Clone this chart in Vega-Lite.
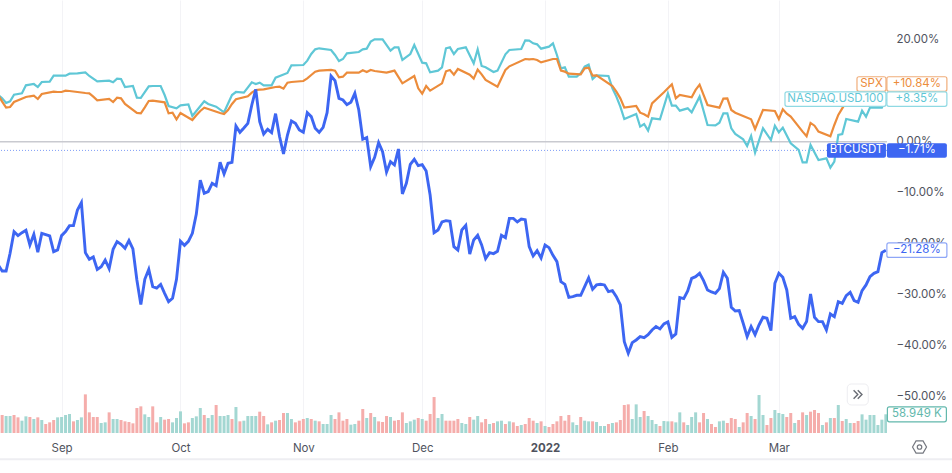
{"$schema":"https://vega.github.io/schema/vega-lite/v6.json","width":887,"height":433,"autosize":{"type":"none"},"padding":{"left":0,"top":0,"right":65,"bottom":40},"background":"#ffffff",
"config":{"view":{"stroke":null},"font":"Inter","axis":{"title":null,"domain":false,"ticks":false,"grid":true,"gridColor":"#f3f3f6","gridWidth":1,"labelFont":"Inter","labelFontSize":11.5,"labelColor":"#50535e"}},
"datasets":{
"btc":[{"date":"2021-08-16","pct":-24.18},{"date":"2021-08-17","pct":-25.35},{"date":"2021-08-18","pct":-25.35},{"date":"2021-08-19","pct":-21.89},{"date":"2021-08-20","pct":-17.64},{"date":"2021-08-21","pct":-18.42},{"date":"2021-08-22","pct":-17.84},{"date":"2021-08-23","pct":-17.38},{"date":"2021-08-24","pct":-20.25},{"date":"2021-08-25","pct":-18.16},{"date":"2021-08-26","pct":-21.69},{"date":"2021-08-27","pct":-17.97},{"date":"2021-08-28","pct":-18.23},{"date":"2021-08-29","pct":-18.49},{"date":"2021-08-30","pct":-21.56},{"date":"2021-08-31","pct":-21.23},{"date":"2021-09-01","pct":-18.42},{"date":"2021-09-02","pct":-17.64},{"date":"2021-09-03","pct":-16.46},{"date":"2021-09-04","pct":-16.46},{"date":"2021-09-05","pct":-13.39},{"date":"2021-09-06","pct":-11.95},{"date":"2021-09-07","pct":-21.76},{"date":"2021-09-08","pct":-23.06},{"date":"2021-09-09","pct":-22.61},{"date":"2021-09-10","pct":-25.03},{"date":"2021-09-11","pct":-24.5},{"date":"2021-09-12","pct":-23.2},{"date":"2021-09-13","pct":-24.9},{"date":"2021-09-14","pct":-21.1},{"date":"2021-09-15","pct":-19.6},{"date":"2021-09-16","pct":-20.12},{"date":"2021-09-17","pct":-20.9},{"date":"2021-09-18","pct":-19.4},{"date":"2021-09-19","pct":-21.04},{"date":"2021-09-20","pct":-27.12},{"date":"2021-09-21","pct":-31.95},{"date":"2021-09-22","pct":-26.99},{"date":"2021-09-23","pct":-25.03},{"date":"2021-09-24","pct":-28.42},{"date":"2021-09-25","pct":-28.69},{"date":"2021-09-26","pct":-27.97},{"date":"2021-09-27","pct":-29.73},{"date":"2021-09-28","pct":-31.37},{"date":"2021-09-29","pct":-30.71},{"date":"2021-09-30","pct":-26.99},{"date":"2021-10-01","pct":-19.53},{"date":"2021-10-02","pct":-20.32},{"date":"2021-10-03","pct":-19.53},{"date":"2021-10-04","pct":-17.97},{"date":"2021-10-05","pct":-14.2},{"date":"2021-10-06","pct":-7.57},{"date":"2021-10-07","pct":-10.12},{"date":"2021-10-08","pct":-9.8},{"date":"2021-10-09","pct":-8.16},{"date":"2021-10-10","pct":-8.62},{"date":"2021-10-11","pct":-4.04},{"date":"2021-10-12","pct":-6.33},{"date":"2021-10-13","pct":-4.24},{"date":"2021-10-14","pct":-4.04},{"date":"2021-10-15","pct":3.08},{"date":"2021-10-16","pct":1.84},{"date":"2021-10-17","pct":2.69},{"date":"2021-10-18","pct":3.6},{"date":"2021-10-19","pct":7.2},{"date":"2021-10-20","pct":10.27},{"date":"2021-10-21","pct":3.93},{"date":"2021-10-22","pct":1.51},{"date":"2021-10-23","pct":2.43},{"date":"2021-10-24","pct":1.77},{"date":"2021-10-25","pct":5.5},{"date":"2021-10-26","pct":1.0},{"date":"2021-10-27","pct":-2.41},{"date":"2021-10-28","pct":1.31},{"date":"2021-10-29","pct":4.06},{"date":"2021-10-30","pct":3.6},{"date":"2021-10-31","pct":2.3},{"date":"2021-11-01","pct":1.84},{"date":"2021-11-02","pct":5.69},{"date":"2021-11-03","pct":4.91},{"date":"2021-11-04","pct":2.62},{"date":"2021-11-05","pct":1.84},{"date":"2021-11-06","pct":2.82},{"date":"2021-11-07","pct":5.69},{"date":"2021-11-08","pct":12.88},{"date":"2021-11-09","pct":11.97},{"date":"2021-11-10","pct":8.5},{"date":"2021-11-11","pct":8.18},{"date":"2021-11-12","pct":7.26},{"date":"2021-11-13","pct":7.72},{"date":"2021-11-14","pct":9.48},{"date":"2021-11-15","pct":6.22},{"date":"2021-11-16","pct":0.47},{"date":"2021-11-17","pct":0.79},{"date":"2021-11-18","pct":-4.9},{"date":"2021-11-19","pct":-3.06},{"date":"2021-11-20","pct":-0.19},{"date":"2021-11-21","pct":-1.95},{"date":"2021-11-22","pct":-5.94},{"date":"2021-11-23","pct":-3.91},{"date":"2021-11-24","pct":-4.57},{"date":"2021-11-25","pct":-1.43},{"date":"2021-11-26","pct":-10.25},{"date":"2021-11-27","pct":-8.16},{"date":"2021-11-28","pct":-4.44},{"date":"2021-11-29","pct":-3.46},{"date":"2021-11-30","pct":-4.7},{"date":"2021-12-01","pct":-4.5},{"date":"2021-12-02","pct":-5.74},{"date":"2021-12-03","pct":-10.45},{"date":"2021-12-04","pct":-17.84},{"date":"2021-12-05","pct":-17.31},{"date":"2021-12-06","pct":-15.74},{"date":"2021-12-07","pct":-15.48},{"date":"2021-12-08","pct":-15.61},{"date":"2021-12-09","pct":-20.58},{"date":"2021-12-10","pct":-21.23},{"date":"2021-12-11","pct":-17.31},{"date":"2021-12-12","pct":-16.4},{"date":"2021-12-13","pct":-22.02},{"date":"2021-12-14","pct":-19.27},{"date":"2021-12-15","pct":-18.36},{"date":"2021-12-16","pct":-20.25},{"date":"2021-12-17","pct":-22.93},{"date":"2021-12-18","pct":-21.76},{"date":"2021-12-19","pct":-21.95},{"date":"2021-12-20","pct":-21.5},{"date":"2021-12-21","pct":-18.36},{"date":"2021-12-22","pct":-18.82},{"date":"2021-12-23","pct":-15.03},{"date":"2021-12-24","pct":-15.03},{"date":"2021-12-25","pct":-15.74},{"date":"2021-12-26","pct":-15.16},{"date":"2021-12-27","pct":-15.29},{"date":"2021-12-28","pct":-20.58},{"date":"2021-12-29","pct":-22.41},{"date":"2021-12-30","pct":-21.37},{"date":"2021-12-31","pct":-22.8},{"date":"2022-01-01","pct":-20.25},{"date":"2022-01-02","pct":-20.78},{"date":"2022-01-03","pct":-22.28},{"date":"2022-01-04","pct":-23.52},{"date":"2022-01-05","pct":-27.44},{"date":"2022-01-06","pct":-27.97},{"date":"2022-01-07","pct":-30.52},{"date":"2022-01-08","pct":-30.38},{"date":"2022-01-09","pct":-30.12},{"date":"2022-01-10","pct":-30.12},{"date":"2022-01-11","pct":-28.42},{"date":"2022-01-12","pct":-26.72},{"date":"2022-01-13","pct":-28.94},{"date":"2022-01-14","pct":-28.09},{"date":"2022-01-15","pct":-27.96},{"date":"2022-01-16","pct":-28.09},{"date":"2022-01-17","pct":-29.4},{"date":"2022-01-18","pct":-29.21},{"date":"2022-01-19","pct":-30.38},{"date":"2022-01-20","pct":-32.02},{"date":"2022-01-21","pct":-39.2},{"date":"2022-01-22","pct":-41.49},{"date":"2022-01-23","pct":-39.4},{"date":"2022-01-24","pct":-38.88},{"date":"2022-01-25","pct":-38.22},{"date":"2022-01-26","pct":-38.42},{"date":"2022-01-27","pct":-37.83},{"date":"2022-01-28","pct":-36.92},{"date":"2022-01-29","pct":-36.26},{"date":"2022-01-30","pct":-36.72},{"date":"2022-01-31","pct":-35.74},{"date":"2022-02-01","pct":-35.35},{"date":"2022-02-02","pct":-38.36},{"date":"2022-02-03","pct":-37.7},{"date":"2022-02-04","pct":-30.58},{"date":"2022-02-05","pct":-30.77},{"date":"2022-02-06","pct":-29.27},{"date":"2022-02-07","pct":-26.79},{"date":"2022-02-08","pct":-26.46},{"date":"2022-02-09","pct":-25.81},{"date":"2022-02-10","pct":-27.24},{"date":"2022-02-11","pct":-29.07},{"date":"2022-02-12","pct":-29.47},{"date":"2022-02-13","pct":-29.73},{"date":"2022-02-14","pct":-28.81},{"date":"2022-02-15","pct":-25.61},{"date":"2022-02-16","pct":-26.79},{"date":"2022-02-17","pct":-32.47},{"date":"2022-02-18","pct":-33.19},{"date":"2022-02-19","pct":-33.13},{"date":"2022-02-20","pct":-35.61},{"date":"2022-02-21","pct":-38.22},{"date":"2022-02-22","pct":-36.26},{"date":"2022-02-23","pct":-37.83},{"date":"2022-02-24","pct":-35.94},{"date":"2022-02-25","pct":-34.43},{"date":"2022-02-26","pct":-34.63},{"date":"2022-02-27","pct":-37.05},{"date":"2022-02-28","pct":-27.77},{"date":"2022-03-01","pct":-25.81},{"date":"2022-03-02","pct":-26.59},{"date":"2022-03-03","pct":-29.07},{"date":"2022-03-04","pct":-34.63},{"date":"2022-03-05","pct":-34.3},{"date":"2022-03-06","pct":-35.81},{"date":"2022-03-07","pct":-36.59},{"date":"2022-03-08","pct":-35.28},{"date":"2022-03-09","pct":-29.86},{"date":"2022-03-10","pct":-34.43},{"date":"2022-03-11","pct":-35.28},{"date":"2022-03-12","pct":-35.28},{"date":"2022-03-13","pct":-36.92},{"date":"2022-03-14","pct":-33.78},{"date":"2022-03-15","pct":-34.3},{"date":"2022-03-16","pct":-31.36},{"date":"2022-03-17","pct":-31.69},{"date":"2022-03-18","pct":-30.19},{"date":"2022-03-19","pct":-29.53},{"date":"2022-03-20","pct":-31.17},{"date":"2022-03-21","pct":-31.49},{"date":"2022-03-22","pct":-29.21},{"date":"2022-03-23","pct":-28.09},{"date":"2022-03-24","pct":-26.46},{"date":"2022-03-25","pct":-25.81},{"date":"2022-03-26","pct":-25.48},{"date":"2022-03-27","pct":-21.75},{"date":"2022-03-28","pct":-21.28}],
"spx":[{"date":"2021-08-16","pct":9.15},{"date":"2021-08-17","pct":7.85},{"date":"2021-08-18","pct":6.67},{"date":"2021-08-19","pct":6.8},{"date":"2021-08-20","pct":7.78},{"date":"2021-08-23","pct":8.76},{"date":"2021-08-24","pct":8.9},{"date":"2021-08-25","pct":9.02},{"date":"2021-08-26","pct":8.37},{"date":"2021-08-27","pct":9.35},{"date":"2021-08-30","pct":9.81},{"date":"2021-08-31","pct":9.74},{"date":"2021-09-01","pct":9.74},{"date":"2021-09-02","pct":10.0},{"date":"2021-09-03","pct":9.94},{"date":"2021-09-07","pct":9.55},{"date":"2021-09-08","pct":9.48},{"date":"2021-09-09","pct":8.83},{"date":"2021-09-10","pct":8.11},{"date":"2021-09-13","pct":8.37},{"date":"2021-09-14","pct":7.78},{"date":"2021-09-15","pct":8.63},{"date":"2021-09-16","pct":8.5},{"date":"2021-09-17","pct":7.39},{"date":"2021-09-20","pct":5.63},{"date":"2021-09-21","pct":5.56},{"date":"2021-09-22","pct":6.74},{"date":"2021-09-23","pct":7.98},{"date":"2021-09-24","pct":8.04},{"date":"2021-09-27","pct":7.72},{"date":"2021-09-28","pct":5.56},{"date":"2021-09-29","pct":5.69},{"date":"2021-09-30","pct":4.38},{"date":"2021-10-01","pct":5.63},{"date":"2021-10-04","pct":4.25},{"date":"2021-10-05","pct":5.17},{"date":"2021-10-06","pct":6.02},{"date":"2021-10-07","pct":6.67},{"date":"2021-10-08","pct":6.41},{"date":"2021-10-11","pct":5.63},{"date":"2021-10-12","pct":5.43},{"date":"2021-10-13","pct":6.21},{"date":"2021-10-14","pct":7.39},{"date":"2021-10-15","pct":8.31},{"date":"2021-10-18","pct":8.9},{"date":"2021-10-19","pct":9.61},{"date":"2021-10-20","pct":10.14},{"date":"2021-10-21","pct":10.2},{"date":"2021-10-22","pct":10.27},{"date":"2021-10-25","pct":10.72},{"date":"2021-10-26","pct":10.79},{"date":"2021-10-27","pct":10.4},{"date":"2021-10-28","pct":11.57},{"date":"2021-10-29","pct":11.7},{"date":"2021-11-01","pct":11.9},{"date":"2021-11-02","pct":12.42},{"date":"2021-11-03","pct":13.08},{"date":"2021-11-04","pct":13.73},{"date":"2021-11-05","pct":13.93},{"date":"2021-11-08","pct":14.06},{"date":"2021-11-09","pct":13.93},{"date":"2021-11-10","pct":12.62},{"date":"2021-11-11","pct":12.75},{"date":"2021-11-12","pct":13.53},{"date":"2021-11-15","pct":13.53},{"date":"2021-11-16","pct":13.99},{"date":"2021-11-17","pct":13.66},{"date":"2021-11-18","pct":14.06},{"date":"2021-11-19","pct":13.86},{"date":"2021-11-22","pct":13.53},{"date":"2021-11-23","pct":13.73},{"date":"2021-11-24","pct":13.93},{"date":"2021-11-26","pct":11.44},{"date":"2021-11-29","pct":12.88},{"date":"2021-11-30","pct":10.46},{"date":"2021-12-01","pct":9.42},{"date":"2021-12-02","pct":10.92},{"date":"2021-12-03","pct":10.0},{"date":"2021-12-06","pct":11.44},{"date":"2021-12-07","pct":13.8},{"date":"2021-12-08","pct":14.06},{"date":"2021-12-09","pct":13.14},{"date":"2021-12-10","pct":14.25},{"date":"2021-12-13","pct":13.14},{"date":"2021-12-14","pct":12.36},{"date":"2021-12-15","pct":14.12},{"date":"2021-12-16","pct":13.21},{"date":"2021-12-17","pct":12.1},{"date":"2021-12-20","pct":10.79},{"date":"2021-12-21","pct":12.42},{"date":"2021-12-22","pct":14.06},{"date":"2021-12-23","pct":14.78},{"date":"2021-12-27","pct":16.21},{"date":"2021-12-28","pct":16.15},{"date":"2021-12-29","pct":16.21},{"date":"2021-12-30","pct":16.02},{"date":"2021-12-31","pct":15.56},{"date":"2022-01-03","pct":16.21},{"date":"2022-01-04","pct":16.21},{"date":"2022-01-05","pct":13.93},{"date":"2022-01-06","pct":13.73},{"date":"2022-01-07","pct":13.34},{"date":"2022-01-10","pct":13.21},{"date":"2022-01-11","pct":14.38},{"date":"2022-01-12","pct":14.51},{"date":"2022-01-13","pct":12.95},{"date":"2022-01-14","pct":13.01},{"date":"2022-01-18","pct":10.92},{"date":"2022-01-19","pct":9.81},{"date":"2022-01-20","pct":8.5},{"date":"2022-01-21","pct":6.67},{"date":"2022-01-24","pct":7.0},{"date":"2022-01-25","pct":5.69},{"date":"2022-01-26","pct":5.37},{"date":"2022-01-27","pct":4.91},{"date":"2022-01-28","pct":7.52},{"date":"2022-01-31","pct":9.68},{"date":"2022-02-01","pct":10.46},{"date":"2022-02-02","pct":11.25},{"date":"2022-02-03","pct":8.5},{"date":"2022-02-04","pct":9.16},{"date":"2022-02-07","pct":8.7},{"date":"2022-02-08","pct":10.14},{"date":"2022-02-09","pct":11.18},{"date":"2022-02-10","pct":9.16},{"date":"2022-02-11","pct":7.2},{"date":"2022-02-14","pct":6.67},{"date":"2022-02-15","pct":8.44},{"date":"2022-02-16","pct":8.5},{"date":"2022-02-17","pct":6.22},{"date":"2022-02-18","pct":5.69},{"date":"2022-02-22","pct":4.39},{"date":"2022-02-23","pct":2.49},{"date":"2022-02-24","pct":4.39},{"date":"2022-02-25","pct":6.22},{"date":"2022-02-28","pct":6.02},{"date":"2022-03-01","pct":4.45},{"date":"2022-03-02","pct":6.35},{"date":"2022-03-03","pct":5.5},{"date":"2022-03-04","pct":4.91},{"date":"2022-03-07","pct":1.97},{"date":"2022-03-08","pct":1.05},{"date":"2022-03-09","pct":3.67},{"date":"2022-03-10","pct":3.14},{"date":"2022-03-11","pct":1.97},{"date":"2022-03-14","pct":1.05},{"date":"2022-03-15","pct":3.27},{"date":"2022-03-16","pct":5.24},{"date":"2022-03-17","pct":6.54},{"date":"2022-03-18","pct":7.85},{"date":"2022-03-21","pct":7.85},{"date":"2022-03-22","pct":9.16},{"date":"2022-03-23","pct":8.5},{"date":"2022-03-24","pct":9.48},{"date":"2022-03-25","pct":9.81},{"date":"2022-03-28","pct":10.84}],
"ndx":[{"date":"2021-08-16","pct":9.15},{"date":"2021-08-17","pct":8.5},{"date":"2021-08-18","pct":7.59},{"date":"2021-08-19","pct":7.91},{"date":"2021-08-20","pct":9.22},{"date":"2021-08-22","pct":9.48},{"date":"2021-08-23","pct":11.05},{"date":"2021-08-25","pct":11.31},{"date":"2021-08-26","pct":10.72},{"date":"2021-08-27","pct":11.7},{"date":"2021-08-29","pct":11.77},{"date":"2021-08-30","pct":12.95},{"date":"2021-09-02","pct":12.95},{"date":"2021-09-03","pct":13.34},{"date":"2021-09-05","pct":13.4},{"date":"2021-09-07","pct":13.6},{"date":"2021-09-08","pct":12.88},{"date":"2021-09-10","pct":11.83},{"date":"2021-09-13","pct":11.97},{"date":"2021-09-14","pct":11.64},{"date":"2021-09-15","pct":12.36},{"date":"2021-09-16","pct":12.29},{"date":"2021-09-17","pct":10.72},{"date":"2021-09-19","pct":10.92},{"date":"2021-09-20","pct":8.63},{"date":"2021-09-21","pct":8.57},{"date":"2021-09-23","pct":10.85},{"date":"2021-09-24","pct":10.92},{"date":"2021-09-26","pct":10.92},{"date":"2021-09-27","pct":9.15},{"date":"2021-09-28","pct":7.0},{"date":"2021-09-30","pct":6.54},{"date":"2021-10-01","pct":7.13},{"date":"2021-10-03","pct":7.32},{"date":"2021-10-04","pct":5.04},{"date":"2021-10-07","pct":7.91},{"date":"2021-10-08","pct":7.39},{"date":"2021-10-10","pct":6.87},{"date":"2021-10-12","pct":5.76},{"date":"2021-10-14","pct":9.15},{"date":"2021-10-15","pct":9.74},{"date":"2021-10-17","pct":9.61},{"date":"2021-10-19","pct":11.64},{"date":"2021-10-20","pct":11.31},{"date":"2021-10-21","pct":11.57},{"date":"2021-10-22","pct":11.05},{"date":"2021-10-24","pct":11.05},{"date":"2021-10-25","pct":12.55},{"date":"2021-10-28","pct":13.47},{"date":"2021-10-29","pct":14.97},{"date":"2021-11-01","pct":15.04},{"date":"2021-11-02","pct":15.89},{"date":"2021-11-03","pct":17.19},{"date":"2021-11-04","pct":18.11},{"date":"2021-11-05","pct":18.31},{"date":"2021-11-08","pct":17.98},{"date":"2021-11-09","pct":17.0},{"date":"2021-11-10","pct":15.82},{"date":"2021-11-11","pct":16.21},{"date":"2021-11-12","pct":17.32},{"date":"2021-11-15","pct":17.59},{"date":"2021-11-16","pct":18.11},{"date":"2021-11-17","pct":18.24},{"date":"2021-11-18","pct":19.61},{"date":"2021-11-19","pct":20.07},{"date":"2021-11-21","pct":20.07},{"date":"2021-11-23","pct":17.85},{"date":"2021-11-24","pct":18.5},{"date":"2021-11-25","pct":18.5},{"date":"2021-11-26","pct":16.02},{"date":"2021-11-28","pct":17.19},{"date":"2021-11-29","pct":18.96},{"date":"2021-12-01","pct":15.49},{"date":"2021-12-02","pct":15.36},{"date":"2021-12-03","pct":13.6},{"date":"2021-12-05","pct":13.93},{"date":"2021-12-06","pct":14.58},{"date":"2021-12-07","pct":18.31},{"date":"2021-12-08","pct":18.5},{"date":"2021-12-09","pct":17.19},{"date":"2021-12-10","pct":18.17},{"date":"2021-12-12","pct":18.5},{"date":"2021-12-14","pct":15.36},{"date":"2021-12-15","pct":18.11},{"date":"2021-12-16","pct":14.84},{"date":"2021-12-17","pct":14.58},{"date":"2021-12-19","pct":13.66},{"date":"2021-12-20","pct":13.93},{"date":"2021-12-22","pct":17.13},{"date":"2021-12-23","pct":17.98},{"date":"2021-12-26","pct":18.17},{"date":"2021-12-27","pct":19.87},{"date":"2021-12-28","pct":19.81},{"date":"2021-12-29","pct":19.29},{"date":"2021-12-30","pct":19.09},{"date":"2021-12-31","pct":18.24},{"date":"2022-01-02","pct":18.63},{"date":"2022-01-03","pct":19.29},{"date":"2022-01-04","pct":17.0},{"date":"2022-01-05","pct":14.38},{"date":"2022-01-06","pct":14.58},{"date":"2022-01-07","pct":12.75},{"date":"2022-01-09","pct":12.75},{"date":"2022-01-10","pct":13.4},{"date":"2022-01-11","pct":14.71},{"date":"2022-01-12","pct":15.1},{"date":"2022-01-13","pct":12.29},{"date":"2022-01-14","pct":13.01},{"date":"2022-01-17","pct":12.88},{"date":"2022-01-18","pct":10.46},{"date":"2022-01-19","pct":8.83},{"date":"2022-01-20","pct":6.87},{"date":"2022-01-21","pct":4.45},{"date":"2022-01-24","pct":5.43},{"date":"2022-01-25","pct":2.95},{"date":"2022-01-26","pct":3.47},{"date":"2022-01-27","pct":2.16},{"date":"2022-01-28","pct":4.58},{"date":"2022-01-30","pct":4.39},{"date":"2022-02-01","pct":9.48},{"date":"2022-02-02","pct":7.07},{"date":"2022-02-03","pct":7.07},{"date":"2022-02-04","pct":6.09},{"date":"2022-02-06","pct":6.54},{"date":"2022-02-07","pct":5.76},{"date":"2022-02-09","pct":8.83},{"date":"2022-02-11","pct":3.27},{"date":"2022-02-13","pct":3.21},{"date":"2022-02-14","pct":3.73},{"date":"2022-02-15","pct":5.56},{"date":"2022-02-16","pct":5.56},{"date":"2022-02-17","pct":2.62},{"date":"2022-02-18","pct":1.51},{"date":"2022-02-20","pct":0.46},{"date":"2022-02-21","pct":-0.84},{"date":"2022-02-22","pct":1.12},{"date":"2022-02-23","pct":-2.15},{"date":"2022-02-25","pct":2.62},{"date":"2022-02-27","pct":0.33},{"date":"2022-02-28","pct":3.14},{"date":"2022-03-01","pct":1.84},{"date":"2022-03-02","pct":2.75},{"date":"2022-03-04","pct":-0.32},{"date":"2022-03-06","pct":-1.63},{"date":"2022-03-07","pct":-4.05},{"date":"2022-03-08","pct":-4.05},{"date":"2022-03-09","pct":-0.65},{"date":"2022-03-11","pct":-3.59},{"date":"2022-03-13","pct":-3.26},{"date":"2022-03-14","pct":-5.09},{"date":"2022-03-15","pct":-3.91},{"date":"2022-03-16","pct":1.31},{"date":"2022-03-17","pct":1.51},{"date":"2022-03-18","pct":4.45},{"date":"2022-03-21","pct":3.93},{"date":"2022-03-22","pct":6.09},{"date":"2022-03-23","pct":4.91},{"date":"2022-03-24","pct":6.67},{"date":"2022-03-27","pct":6.67},{"date":"2022-03-28","pct":8.35}],
"vol":[{"date":"2021-08-17","volume":56.7,"dir":"down"},{"date":"2021-08-18","volume":53.55,"dir":"up"},{"date":"2021-08-19","volume":53.55,"dir":"up"},{"date":"2021-08-20","volume":56.7,"dir":"down"},{"date":"2021-08-21","volume":49.35,"dir":"down"},{"date":"2021-08-22","volume":38.85,"dir":"up"},{"date":"2021-08-23","volume":52.5,"dir":"up"},{"date":"2021-08-24","volume":50.4,"dir":"down"},{"date":"2021-08-25","volume":44.1,"dir":"up"},{"date":"2021-08-26","volume":49.35,"dir":"down"},{"date":"2021-08-27","volume":40.95,"dir":"up"},{"date":"2021-08-28","volume":28.35,"dir":"down"},{"date":"2021-08-29","volume":33.6,"dir":"down"},{"date":"2021-08-30","volume":40.95,"dir":"down"},{"date":"2021-08-31","volume":49.35,"dir":"up"},{"date":"2021-09-01","volume":50.4,"dir":"up"},{"date":"2021-09-02","volume":56.7,"dir":"up"},{"date":"2021-09-03","volume":59.85,"dir":"up"},{"date":"2021-09-04","volume":36.75,"dir":"down"},{"date":"2021-09-05","volume":40.95,"dir":"up"},{"date":"2021-09-06","volume":49.35,"dir":"up"},{"date":"2021-09-07","volume":121.8,"dir":"down"},{"date":"2021-09-08","volume":65.1,"dir":"down"},{"date":"2021-09-09","volume":50.4,"dir":"down"},{"date":"2021-09-10","volume":50.4,"dir":"down"},{"date":"2021-09-11","volume":31.5,"dir":"up"},{"date":"2021-09-12","volume":33.6,"dir":"up"},{"date":"2021-09-13","volume":65.1,"dir":"down"},{"date":"2021-09-14","volume":44.1,"dir":"up"},{"date":"2021-09-15","volume":44.1,"dir":"up"},{"date":"2021-09-16","volume":40.95,"dir":"down"},{"date":"2021-09-17","volume":36.75,"dir":"down"},{"date":"2021-09-18","volume":34.65,"dir":"down"},{"date":"2021-09-19","volume":30.45,"dir":"down"},{"date":"2021-09-20","volume":78.75,"dir":"down"},{"date":"2021-09-21","volume":84,"dir":"down"},{"date":"2021-09-22","volume":58.8,"dir":"up"},{"date":"2021-09-23","volume":50.4,"dir":"up"},{"date":"2021-09-24","volume":84,"dir":"down"},{"date":"2021-09-25","volume":33.6,"dir":"down"},{"date":"2021-09-26","volume":50.4,"dir":"up"},{"date":"2021-09-27","volume":42,"dir":"down"},{"date":"2021-09-28","volume":44.1,"dir":"down"},{"date":"2021-09-29","volume":33.6,"dir":"up"},{"date":"2021-09-30","volume":47.25,"dir":"up"},{"date":"2021-10-01","volume":68.25,"dir":"up"},{"date":"2021-10-02","volume":30.45,"dir":"down"},{"date":"2021-10-03","volume":33.6,"dir":"down"},{"date":"2021-10-04","volume":47.25,"dir":"up"},{"date":"2021-10-05","volume":52.5,"dir":"up"},{"date":"2021-10-06","volume":78.75,"dir":"up"},{"date":"2021-10-07","volume":56.7,"dir":"down"},{"date":"2021-10-08","volume":47.25,"dir":"up"},{"date":"2021-10-09","volume":56.7,"dir":"up"},{"date":"2021-10-10","volume":88.2,"dir":"down"},{"date":"2021-10-11","volume":53.55,"dir":"up"},{"date":"2021-10-12","volume":53.55,"dir":"up"},{"date":"2021-10-13","volume":56.7,"dir":"up"},{"date":"2021-10-14","volume":44.1,"dir":"down"},{"date":"2021-10-15","volume":81.9,"dir":"up"},{"date":"2021-10-16","volume":36.75,"dir":"down"},{"date":"2021-10-17","volume":38.85,"dir":"up"},{"date":"2021-10-18","volume":53.55,"dir":"up"},{"date":"2021-10-19","volume":53.55,"dir":"up"},{"date":"2021-10-20","volume":53.55,"dir":"up"},{"date":"2021-10-21","volume":67.2,"dir":"down"},{"date":"2021-10-22","volume":53.55,"dir":"down"},{"date":"2021-10-23","volume":27.3,"dir":"up"},{"date":"2021-10-24","volume":33.6,"dir":"down"},{"date":"2021-10-25","volume":38.85,"dir":"up"},{"date":"2021-10-26","volume":40.95,"dir":"down"},{"date":"2021-10-27","volume":63,"dir":"down"},{"date":"2021-10-28","volume":63,"dir":"up"},{"date":"2021-10-29","volume":44.1,"dir":"up"},{"date":"2021-10-30","volume":33.6,"dir":"down"},{"date":"2021-10-31","volume":38.85,"dir":"down"},{"date":"2021-11-01","volume":44.1,"dir":"down"},{"date":"2021-11-02","volume":47.25,"dir":"up"},{"date":"2021-11-03","volume":44.1,"dir":"down"},{"date":"2021-11-04","volume":38.85,"dir":"up"},{"date":"2021-11-05","volume":36.75,"dir":"down"},{"date":"2021-11-06","volume":28.35,"dir":"up"},{"date":"2021-11-07","volume":28.35,"dir":"up"},{"date":"2021-11-08","volume":56.7,"dir":"up"},{"date":"2021-11-09","volume":44.1,"dir":"down"},{"date":"2021-11-10","volume":65.1,"dir":"down"},{"date":"2021-11-11","volume":38.85,"dir":"down"},{"date":"2021-11-12","volume":44.1,"dir":"down"},{"date":"2021-11-13","volume":26.25,"dir":"up"},{"date":"2021-11-14","volume":28.35,"dir":"up"},{"date":"2021-11-15","volume":38.85,"dir":"down"},{"date":"2021-11-16","volume":75.6,"dir":"down"},{"date":"2021-11-17","volume":47.25,"dir":"up"},{"date":"2021-11-18","volume":63,"dir":"down"},{"date":"2021-11-19","volume":50.4,"dir":"up"},{"date":"2021-11-20","volume":36.75,"dir":"down"},{"date":"2021-11-21","volume":34.65,"dir":"down"},{"date":"2021-11-22","volume":53.55,"dir":"down"},{"date":"2021-11-23","volume":50.4,"dir":"up"},{"date":"2021-11-24","volume":38.85,"dir":"down"},{"date":"2021-11-25","volume":40.95,"dir":"down"},{"date":"2021-11-26","volume":65.1,"dir":"down"},{"date":"2021-11-27","volume":31.5,"dir":"up"},{"date":"2021-11-28","volume":36.75,"dir":"up"},{"date":"2021-11-29","volume":42,"dir":"up"},{"date":"2021-11-30","volume":47.25,"dir":"down"},{"date":"2021-12-01","volume":44.1,"dir":"up"},{"date":"2021-12-02","volume":38.85,"dir":"down"},{"date":"2021-12-03","volume":59.85,"dir":"down"},{"date":"2021-12-04","volume":113.4,"dir":"down"},{"date":"2021-12-05","volume":47.25,"dir":"up"},{"date":"2021-12-06","volume":59.85,"dir":"up"},{"date":"2021-12-07","volume":38.85,"dir":"down"},{"date":"2021-12-08","volume":38.85,"dir":"down"},{"date":"2021-12-09","volume":38.85,"dir":"down"},{"date":"2021-12-10","volume":44.1,"dir":"down"},{"date":"2021-12-11","volume":31.5,"dir":"up"},{"date":"2021-12-12","volume":28.35,"dir":"up"},{"date":"2021-12-13","volume":50.4,"dir":"down"},{"date":"2021-12-14","volume":42,"dir":"up"},{"date":"2021-12-15","volume":53.55,"dir":"up"},{"date":"2021-12-16","volume":33.6,"dir":"down"},{"date":"2021-12-17","volume":44.1,"dir":"down"},{"date":"2021-12-18","volume":28.35,"dir":"up"},{"date":"2021-12-19","volume":31.5,"dir":"down"},{"date":"2021-12-20","volume":36.75,"dir":"up"},{"date":"2021-12-21","volume":38.85,"dir":"up"},{"date":"2021-12-22","volume":28.35,"dir":"down"},{"date":"2021-12-23","volume":36.75,"dir":"up"},{"date":"2021-12-24","volume":33.6,"dir":"down"},{"date":"2021-12-25","volume":22.05,"dir":"down"},{"date":"2021-12-26","volume":25.2,"dir":"up"},{"date":"2021-12-27","volume":28.35,"dir":"down"},{"date":"2021-12-28","volume":47.25,"dir":"down"},{"date":"2021-12-29","volume":38.85,"dir":"down"},{"date":"2021-12-30","volume":31.5,"dir":"up"},{"date":"2021-12-31","volume":36.75,"dir":"down"},{"date":"2022-01-01","volume":22.05,"dir":"up"},{"date":"2022-01-02","volume":18.9,"dir":"down"},{"date":"2022-01-03","volume":28.35,"dir":"down"},{"date":"2022-01-04","volume":36.75,"dir":"down"},{"date":"2022-01-05","volume":53.55,"dir":"down"},{"date":"2022-01-06","volume":38.85,"dir":"down"},{"date":"2022-01-07","volume":56.7,"dir":"down"},{"date":"2022-01-08","volume":33.6,"dir":"up"},{"date":"2022-01-09","volume":25.2,"dir":"up"},{"date":"2022-01-10","volume":50.4,"dir":"down"},{"date":"2022-01-11","volume":38.85,"dir":"up"},{"date":"2022-01-12","volume":36.75,"dir":"up"},{"date":"2022-01-13","volume":36.75,"dir":"down"},{"date":"2022-01-14","volume":34.65,"dir":"up"},{"date":"2022-01-15","volume":22.05,"dir":"up"},{"date":"2022-01-16","volume":22.05,"dir":"up"},{"date":"2022-01-17","volume":28.35,"dir":"down"},{"date":"2022-01-18","volume":31.5,"dir":"up"},{"date":"2022-01-19","volume":33.6,"dir":"down"},{"date":"2022-01-20","volume":40.95,"dir":"down"},{"date":"2022-01-21","volume":88.2,"dir":"down"},{"date":"2022-01-22","volume":90.3,"dir":"down"},{"date":"2022-01-23","volume":44.1,"dir":"up"},{"date":"2022-01-24","volume":90.3,"dir":"up"},{"date":"2022-01-25","volume":50.4,"dir":"up"},{"date":"2022-01-26","volume":69.3,"dir":"down"},{"date":"2022-01-27","volume":53.55,"dir":"up"},{"date":"2022-01-28","volume":40.95,"dir":"up"},{"date":"2022-01-29","volume":28.35,"dir":"up"},{"date":"2022-01-30","volume":22.05,"dir":"down"},{"date":"2022-01-31","volume":37.8,"dir":"up"},{"date":"2022-02-01","volume":36.75,"dir":"up"},{"date":"2022-02-02","volume":36.75,"dir":"down"},{"date":"2022-02-03","volume":33.6,"dir":"up"},{"date":"2022-02-04","volume":65.1,"dir":"up"},{"date":"2022-02-05","volume":33.6,"dir":"down"},{"date":"2022-02-06","volume":25.2,"dir":"up"},{"date":"2022-02-07","volume":50.4,"dir":"up"},{"date":"2022-02-08","volume":65.1,"dir":"up"},{"date":"2022-02-09","volume":33.6,"dir":"down"},{"date":"2022-02-10","volume":63,"dir":"down"},{"date":"2022-02-11","volume":44.1,"dir":"up"},{"date":"2022-02-12","volume":28.35,"dir":"down"},{"date":"2022-02-13","volume":18.9,"dir":"down"},{"date":"2022-02-14","volume":36.75,"dir":"up"},{"date":"2022-02-15","volume":38.85,"dir":"up"},{"date":"2022-02-16","volume":31.5,"dir":"down"},{"date":"2022-02-17","volume":47.25,"dir":"down"},{"date":"2022-02-18","volume":44.1,"dir":"down"},{"date":"2022-02-19","volume":18.9,"dir":"up"},{"date":"2022-02-20","volume":33.6,"dir":"down"},{"date":"2022-02-21","volume":63,"dir":"down"},{"date":"2022-02-22","volume":53.55,"dir":"up"},{"date":"2022-02-23","volume":44.1,"dir":"down"},{"date":"2022-02-24","volume":119.7,"dir":"up"},{"date":"2022-02-25","volume":56.7,"dir":"up"},{"date":"2022-02-26","volume":25.2,"dir":"down"},{"date":"2022-02-27","volume":47.25,"dir":"down"},{"date":"2022-02-28","volume":72.45,"dir":"up"},{"date":"2022-03-01","volume":63,"dir":"up"},{"date":"2022-03-02","volume":59.85,"dir":"up"},{"date":"2022-03-03","volume":50.4,"dir":"down"},{"date":"2022-03-04","volume":63,"dir":"down"},{"date":"2022-03-05","volume":31.5,"dir":"up"},{"date":"2022-03-06","volume":40.95,"dir":"down"},{"date":"2022-03-07","volume":65.1,"dir":"down"},{"date":"2022-03-08","volume":56.7,"dir":"up"},{"date":"2022-03-09","volume":67.2,"dir":"down"},{"date":"2022-03-10","volume":72.45,"dir":"down"},{"date":"2022-03-11","volume":63,"dir":"down"},{"date":"2022-03-12","volume":25.2,"dir":"up"},{"date":"2022-03-13","volume":33.6,"dir":"down"},{"date":"2022-03-14","volume":47.25,"dir":"up"},{"date":"2022-03-15","volume":47.25,"dir":"down"},{"date":"2022-03-16","volume":88.2,"dir":"up"},{"date":"2022-03-17","volume":37.8,"dir":"down"},{"date":"2022-03-18","volume":44.1,"dir":"up"},{"date":"2022-03-19","volume":31.5,"dir":"up"},{"date":"2022-03-20","volume":31.5,"dir":"down"},{"date":"2022-03-21","volume":37.8,"dir":"down"},{"date":"2022-03-22","volume":58.8,"dir":"up"},{"date":"2022-03-23","volume":42,"dir":"up"},{"date":"2022-03-24","volume":56.7,"dir":"up"},{"date":"2022-03-25","volume":56.7,"dir":"up"},{"date":"2022-03-26","volume":25.2,"dir":"up"},{"date":"2022-03-27","volume":42,"dir":"up"},{"date":"2022-03-28","volume":58.949,"dir":"up"}],
"tags":[{"key":"BTCUSDT","value":-1.71,"text":"−1.71%"},{"key":"NOW","value":-21.28,"text":"−21.28%"},{"key":"NASDAQ.USD.100","value":8.35,"text":"+8.35%"}]
},
"layer":[
{"layer":[
{"data":{"name":"vol"},"mark":{"type":"bar","width":3,"clip":true},"encoding":{"x":{"field":"date","type":"temporal","scale":{"type":"utc","nice":false,"padding":0,"domain":[{"year":2021,"month":8,"date":16,"hours":11,"utc":true},{"year":2022,"month":3,"date":28,"hours":7,"utc":true}]},"axis":{"values":[{"year":2021,"month":9,"date":1,"utc":true},{"year":2021,"month":10,"date":1,"utc":true},{"year":2021,"month":11,"date":1,"utc":true},{"year":2021,"month":12,"date":1,"utc":true},{"year":2022,"month":1,"date":1,"utc":true},{"year":2022,"month":2,"date":1,"utc":true},{"year":2022,"month":3,"date":1,"utc":true}],"labelExpr":"utcmonth(datum.value)==0 ? utcFormat(datum.value,'%Y') : utcFormat(datum.value,'%b')","labelFontWeight":{"condition":{"test":"utcmonth(datum.value)==0","value":"bold"},"value":"normal"},"labelPadding":9,"labelFlush":false,"labelOverlap":false}},"y":{"field":"volume","type":"quantitative","scale":{"domain":[0,1365],"nice":false},"axis":null},"color":{"field":"dir","type":"nominal","scale":{"domain":["up","down"],"range":["#a3d7d2","#f5adab"]},"legend":null}}},
{"data":{"values":[{"volume":58.949,"text":"58.949 K"}]},"layer":[
{"mark":{"type":"rect","width":59,"height":15,"fill":"#ffffff","stroke":"#62b8ac","strokeWidth":1.2,"cornerRadius":2},"encoding":{"x":{"datum":{"year":2022,"month":4,"date":4,"hours":20,"utc":true},"type":"temporal"},"y":{"field":"volume","type":"quantitative"}}},
{"mark":{"type":"text","fontSize":11.5,"color":"#62b8ac","font":"Inter"},"encoding":{"x":{"datum":{"year":2022,"month":4,"date":4,"hours":20,"utc":true},"type":"temporal"},"y":{"field":"volume","type":"quantitative"},"text":{"field":"text"}}}
]}
]},
{"layer":[
{"data":{"values":[{"level":0}]},"mark":{"type":"rule","color":"#c9cad0","strokeWidth":1.5},"encoding":{"y":{"field":"level","type":"quantitative","scale":{"domain":[-57.12,27.78],"nice":false},"axis":{"values":[-50,-40,-30,-20,-10,0,10,20],"orient":"right","format":".2f","labelExpr":"datum.label+'%'","labelPadding":9,"labelAlign":"left","labelBaseline":"middle"}}}},
{"data":{"values":[{"level":-1.71}]},"mark":{"type":"rule","color":"#7f9df7","strokeWidth":1,"strokeDash":[1,2]},"encoding":{"y":{"field":"level","type":"quantitative"}}},
{"data":{"name":"ndx"},"mark":{"type":"line","color":"#5fc7d6","strokeWidth":2.2,"clip":true},"encoding":{"x":{"field":"date","type":"temporal"},"y":{"field":"pct","type":"quantitative"}}},
{"data":{"name":"spx"},"mark":{"type":"line","color":"#ec8c3b","strokeWidth":2.2,"clip":true},"encoding":{"x":{"field":"date","type":"temporal"},"y":{"field":"pct","type":"quantitative"}}},
{"data":{"name":"btc"},"mark":{"type":"line","color":"#3d66f2","strokeWidth":2.9,"clip":true},"encoding":{"x":{"field":"date","type":"temporal"},"y":{"field":"pct","type":"quantitative"}}},
{"data":{"values":[{"key":"SPX","value":10.84,"text":"+10.84%"}]},"layer":[
{"mark":{"type":"rect","width":29,"height":14.5,"fill":"#ffffff","stroke":"#f0ad7a","strokeWidth":1.2,"cornerRadius":2,"yOffset":-2.4},"encoding":{"x":{"datum":{"year":2022,"month":3,"date":24,"hours":9,"utc":true},"type":"temporal"},"y":{"field":"value","type":"quantitative"}}},
{"mark":{"type":"text","fontSize":11.5,"color":"#ec8c3b","yOffset":-2.4},"encoding":{"x":{"datum":{"year":2022,"month":3,"date":24,"hours":9,"utc":true},"type":"temporal"},"y":{"field":"value","type":"quantitative"},"text":{"field":"key"}}},
{"mark":{"type":"rect","width":60,"height":14.5,"fill":"#ffffff","stroke":"#f0ad7a","strokeWidth":1.2,"cornerRadius":2,"yOffset":-2.4},"encoding":{"x":{"datum":{"year":2022,"month":4,"date":4,"hours":20,"utc":true},"type":"temporal"},"y":{"field":"value","type":"quantitative"}}},
{"mark":{"type":"text","fontSize":11.5,"color":"#ec8c3b","yOffset":-2.4},"encoding":{"x":{"datum":{"year":2022,"month":4,"date":4,"hours":20,"utc":true},"type":"temporal"},"y":{"field":"value","type":"quantitative"},"text":{"field":"text"}}}
]},
{"data":{"name":"tags"},"transform":[{"filter":"datum.key=='NASDAQ.USD.100'"}],"layer":[
{"mark":{"type":"rect","width":101,"height":14.5,"fill":"#ffffff","stroke":"#8fd9e3","strokeWidth":1.2,"cornerRadius":2},"encoding":{"x":{"datum":{"year":2022,"month":3,"date":15,"hours":7,"utc":true},"type":"temporal"},"y":{"field":"value","type":"quantitative"}}},
{"mark":{"type":"text","fontSize":11.5,"color":"#5fc7d6"},"encoding":{"x":{"datum":{"year":2022,"month":3,"date":15,"hours":7,"utc":true},"type":"temporal"},"y":{"field":"value","type":"quantitative"},"text":{"field":"key"}}},
{"mark":{"type":"rect","width":60,"height":14.5,"fill":"#ffffff","stroke":"#8fd9e3","strokeWidth":1.2,"cornerRadius":2},"encoding":{"x":{"datum":{"year":2022,"month":4,"date":4,"hours":20,"utc":true},"type":"temporal"},"y":{"field":"value","type":"quantitative"}}},
{"mark":{"type":"text","fontSize":11.5,"color":"#5fc7d6"},"encoding":{"x":{"datum":{"year":2022,"month":4,"date":4,"hours":20,"utc":true},"type":"temporal"},"y":{"field":"value","type":"quantitative"},"text":{"field":"text"}}}
]},
{"data":{"name":"tags"},"transform":[{"filter":"datum.key=='BTCUSDT'"}],"layer":[
{"mark":{"type":"rect","width":59,"height":14.5,"fill":"#3d66f2","cornerRadius":2},"encoding":{"x":{"datum":{"year":2022,"month":3,"date":20,"hours":14,"utc":true},"type":"temporal"},"y":{"field":"value","type":"quantitative"}}},
{"mark":{"type":"text","fontSize":11.5,"color":"#ffffff"},"encoding":{"x":{"datum":{"year":2022,"month":3,"date":20,"hours":14,"utc":true},"type":"temporal"},"y":{"field":"value","type":"quantitative"},"text":{"field":"key"}}},
{"mark":{"type":"rect","width":60,"height":14.5,"fill":"#3d66f2","cornerRadius":2},"encoding":{"x":{"datum":{"year":2022,"month":4,"date":4,"hours":20,"utc":true},"type":"temporal"},"y":{"field":"value","type":"quantitative"}}},
{"mark":{"type":"text","fontSize":11.5,"color":"#ffffff"},"encoding":{"x":{"datum":{"year":2022,"month":4,"date":4,"hours":20,"utc":true},"type":"temporal"},"y":{"field":"value","type":"quantitative"},"text":{"field":"text"}}}
]},
{"data":{"name":"tags"},"transform":[{"filter":"datum.key=='NOW'"}],"layer":[
{"mark":{"type":"rect","width":60,"height":14.5,"fill":"#ffffff","stroke":"#8ea6f7","strokeWidth":1.2,"cornerRadius":2},"encoding":{"x":{"datum":{"year":2022,"month":4,"date":4,"hours":20,"utc":true},"type":"temporal"},"y":{"field":"value","type":"quantitative"}}},
{"mark":{"type":"text","fontSize":11.5,"color":"#3d66f2"},"encoding":{"x":{"datum":{"year":2022,"month":4,"date":4,"hours":20,"utc":true},"type":"temporal"},"y":{"field":"value","type":"quantitative"},"text":{"field":"text"}}}
]},
{"data":{"values":[{"value":-49.57}]},"layer":[
{"mark":{"type":"rect","width":21,"height":21,"fill":"#ffffff","stroke":"#ededf1","strokeWidth":1,"cornerRadius":4},"encoding":{"x":{"datum":{"year":2022,"month":3,"date":20,"hours":22,"utc":true},"type":"temporal"},"y":{"field":"value","type":"quantitative"}}},
{"mark":{"type":"point","shape":"M-1,-1L0,0L-1,1M0,-1L1,0L0,1","stroke":"#2a2e39","strokeWidth":1.4,"fill":null,"size":70},"encoding":{"x":{"datum":{"year":2022,"month":3,"date":20,"hours":22,"utc":true},"type":"temporal"},"y":{"field":"value","type":"quantitative"}}}
]},
{"data":{"values":[{"value":-59.87}]},"layer":[
{"mark":{"type":"point","shape":"M-1,0L-0.5,-0.866L0.5,-0.866L1,0L0.5,0.866L-0.5,0.866Z","stroke":"#3b3f4a","strokeWidth":1.2,"fill":null,"size":196},"encoding":{"x":{"datum":{"year":2022,"month":4,"date":5,"hours":12,"utc":true},"type":"temporal"},"y":{"field":"value","type":"quantitative"}}},
{"mark":{"type":"point","shape":"circle","stroke":"#3b3f4a","strokeWidth":1.2,"fill":null,"size":20},"encoding":{"x":{"datum":{"year":2022,"month":4,"date":5,"hours":12,"utc":true},"type":"temporal"},"y":{"field":"value","type":"quantitative"}}}
]},
{"data":{"values":[{"value":-62.25}]},"mark":{"type":"rule","color":"#eeeef2","strokeWidth":2},"encoding":{"x":{"datum":{"year":2021,"month":8,"date":16,"hours":11,"utc":true},"type":"temporal"},"x2":{"datum":{"year":2022,"month":4,"date":13,"hours":17,"utc":true}},"y":{"field":"value","type":"quantitative"}}}
]}
],"resolve":{"scale":{"y":"independent"}}}
